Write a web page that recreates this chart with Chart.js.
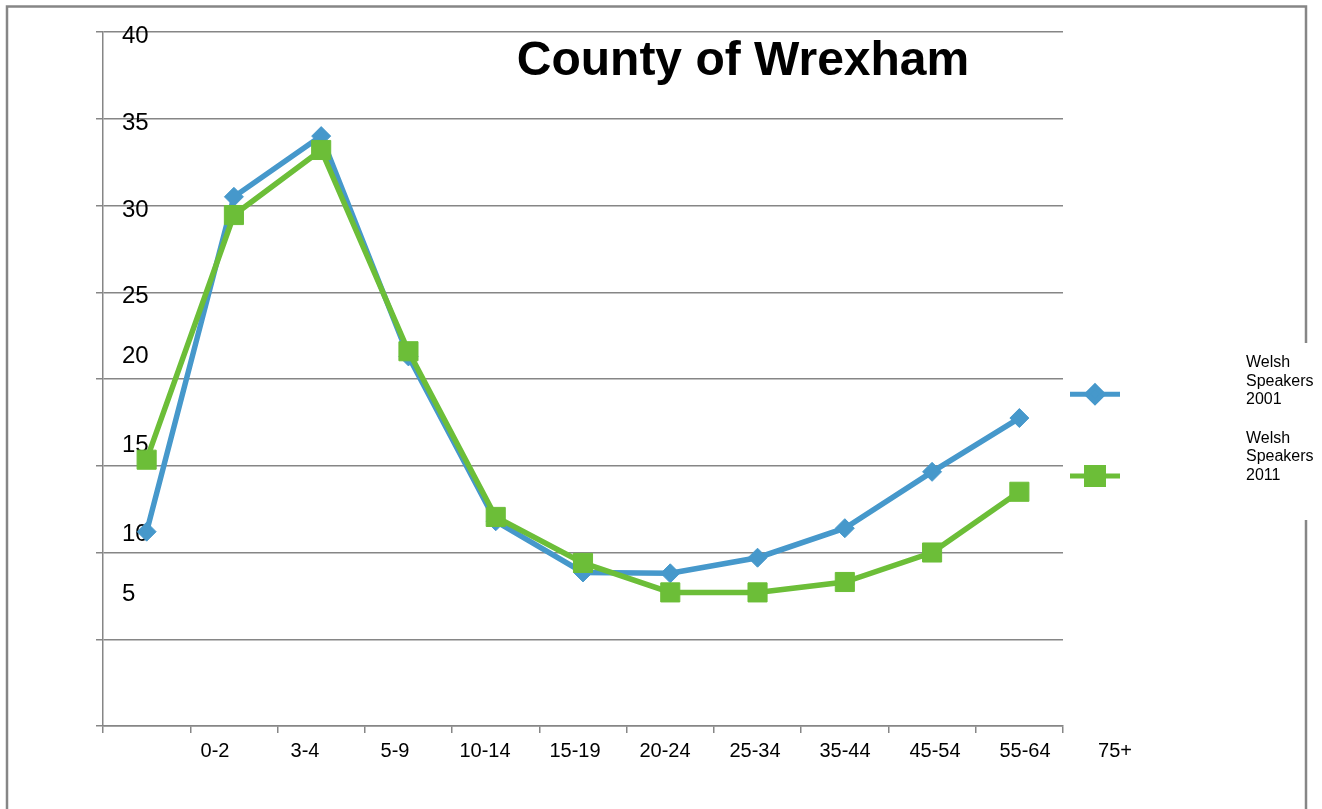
<!DOCTYPE html>
<html>
<head>
<meta charset="utf-8">
<title>County of Wrexham</title>
<script src="https://cdn.jsdelivr.net/npm/chart.js@4.4.1/dist/chart.umd.min.js"></script>
<style>
  html, body { margin: 0; padding: 0; background: #fff; }
  canvas { display: block; }
</style>
</head>
<body>
<canvas id="wrexham" width="1322" height="809"></canvas>
<script>
// Age groups along the x axis
const ageGroups = ['0-2', '3-4', '5-9', '10-14', '15-19', '20-24', '25-34', '35-44', '45-54', '55-64', '75+'];

// Welsh speakers (%) per age group
const speakers2001 = [11.2, 30.5, 34.0, 21.3, 11.8, 8.85, 8.8, 9.7, 11.4, 14.65, 17.75];
const speakers2011 = [15.35, 29.45, 33.2, 21.6, 12.05, 9.4, 7.7, 7.7, 8.3, 10.0, 13.5];

const seriesNames = ['Welsh Speakers 2001', 'Welsh Speakers 2011'];

// y tick labels, and the value each one sits at (they drift off the gridlines in the original)
const yLabels = ['40', '35', '30', '25', '20', '15', '10', '5'];
const yLabelAt = [39.72, 34.76, 29.7, 24.74, 21.3, 16.17, 11.05, 7.59];

const BLUE = '#4698CB';
const GREEN = '#6CBE38';
const GRID = '#868686';
const FONT = "'Liberation Sans', Arial, sans-serif";

// outer frame + title + legend drawn by hand
const decorations = {
    id: 'decorations',
    beforeDraw(chart) {
        const ctx = chart.ctx;
        ctx.save();
        ctx.strokeStyle = GRID;
        ctx.lineWidth = 2.5;
        ctx.beginPath();
        ctx.moveTo(7, 809);
        ctx.lineTo(7, 6.5);
        ctx.lineTo(1306, 6.5);
        ctx.lineTo(1306, 343);
        ctx.moveTo(1306, 520);
        ctx.lineTo(1306, 809);
        ctx.stroke();
        ctx.restore();
    },
    afterDraw(chart) {
        const ctx = chart.ctx;
        ctx.save();
        ctx.fillStyle = '#000';
        ctx.font = 'bold 48px ' + FONT;
        ctx.textAlign = 'center';
        ctx.textBaseline = 'alphabetic';
        ctx.fillText('County of Wrexham', 743, 75);

        const rowY = [394.3, 476];
        const textY = [362.8, 438.5];
        chart.data.datasets.forEach((ds, i) => {
            ctx.strokeStyle = ds.borderColor;
            ctx.lineWidth = 5;
            ctx.beginPath();
            ctx.moveTo(1070, rowY[i]);
            ctx.lineTo(1120, rowY[i]);
            ctx.stroke();
            ctx.fillStyle = ds.pointBackgroundColor;
            ctx.strokeStyle = ds.pointBackgroundColor;
            Chart.helpers.drawPoint(ctx, {
                pointStyle: ds.pointStyle,
                radius: ds.pointStyle === 'rect' ? 12 : 8,
                rotation: 0,
                borderWidth: 1
            }, 1095, rowY[i]);

            ctx.fillStyle = '#000';
            ctx.font = '16px ' + FONT;
            ctx.textAlign = 'left';
            ctx.textBaseline = 'middle';
            ds.label.split(' ').forEach((word, j) => {
                ctx.fillText(word, 1246, textY[i] + j * 18.45);
            });
        });
        ctx.restore();
    }
};

const ctx = document.getElementById('wrexham').getContext('2d');
const chart = new Chart(ctx, {
    type: 'line',
    data: {
        labels: ageGroups,
        datasets: [{
            label: seriesNames[0],
            data: speakers2001,
            borderColor: BLUE,
            backgroundColor: BLUE,
            pointBackgroundColor: BLUE,
            pointBorderColor: BLUE,
            pointStyle: 'rectRot',
            pointRadius: 9.5,
            pointBorderWidth: 1,
            borderWidth: 5.5,
            tension: 0,
            fill: false,
            order: 1
        }, {
            label: seriesNames[1],
            data: speakers2011,
            borderColor: GREEN,
            backgroundColor: GREEN,
            pointBackgroundColor: GREEN,
            pointBorderColor: GREEN,
            pointStyle: 'rect',
            pointRadius: 13.5,
            pointBorderWidth: 1,
            borderWidth: 5.5,
            tension: 0,
            fill: false,
            order: 0
        }]
    },
    options: {
        responsive: false,
        animation: false,
        layout: {
            padding: { left: 96, right: 259, top: 32, bottom: 40 }
        },
        plugins: {
            legend: { display: false },
            title: { display: false },
            tooltip: { enabled: false }
        },
        scales: {
            x: {
                type: 'category',
                offset: true,
                weight: 0,
                grid: {
                    offset: true,
                    drawOnChartArea: false,
                    color: GRID,
                    lineWidth: 1.5,
                    tickLength: 7
                },
                border: { color: GRID, width: 1.5 },
                ticks: { display: false }
            },
            xLabels: {
                type: 'linear',
                axis: 'x',
                position: 'bottom',
                weight: 1,
                min: -1.244,
                max: 9.422,
                grid: { display: false, drawTicks: false },
                border: { display: false },
                afterBuildTicks: (scale) => {
                    scale.ticks = ageGroups.map((g, i) => ({ value: i }));
                },
                afterFit: (scale) => {
                    scale.paddingLeft = 0;
                    scale.paddingRight = 0;
                },
                ticks: {
                    autoSkip: false,
                    maxRotation: 0,
                    padding: 6,
                    color: '#000',
                    font: { family: FONT, size: 20 },
                    callback: (value, index) => ageGroups[index]
                }
            },
            y: {
                type: 'linear',
                min: 0,
                max: 40,
                weight: 1,
                grid: {
                    color: GRID,
                    lineWidth: 1.5,
                    tickLength: 7
                },
                border: { color: GRID, width: 1.5 },
                ticks: { display: false, stepSize: 5 }
            },
            yLabels: {
                type: 'linear',
                axis: 'y',
                position: 'left',
                weight: 0,
                min: 0,
                max: 40,
                grid: { display: false, drawTicks: false },
                border: { display: false },
                afterBuildTicks: (scale) => {
                    scale.ticks = yLabelAt.map(v => ({ value: v }));
                },
                afterFit: (scale) => {
                    scale.width = 0;
                    scale.paddingTop = 0;
                    scale.paddingBottom = 0;
                },
                ticks: {
                    mirror: true,
                    padding: 19,
                    color: '#000',
                    font: { family: FONT, size: 24 },
                    callback: (value, index) => yLabels[index]
                }
            }
        }
    },
    plugins: [decorations]
});
</script>
</body>
</html>
